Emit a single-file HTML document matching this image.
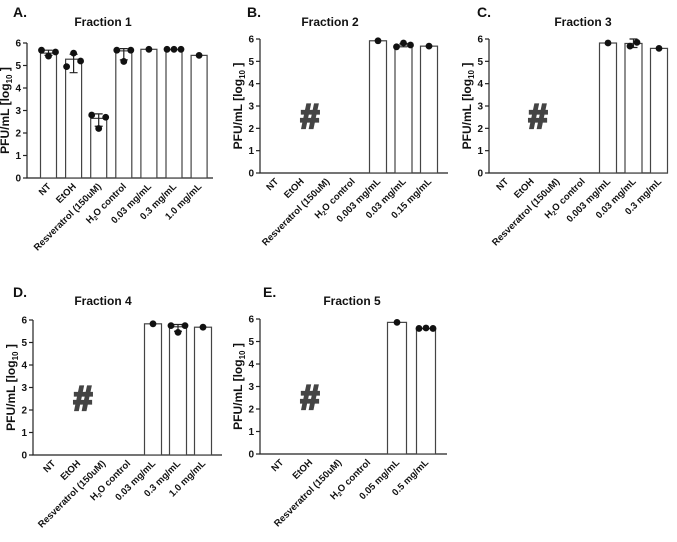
<!DOCTYPE html>
<html><head><meta charset="utf-8"><style>
html,body{margin:0;padding:0;background:#fff;width:677px;height:542px;overflow:hidden}
svg{display:block;font-family:"Liberation Sans",Arial,sans-serif}
</style></head><body>
<svg id="fig" width="677" height="542" viewBox="0 0 677 542"></svg>
<script>
// Panel A
const catsA = ["NT","EtOH","Resveratrol (150uM)","H2O control","0.03 mg/mL","0.3 mg/mL","1.0 mg/mL"];
const meanA = [5.55,5.28,2.65,5.65,5.72,5.7,5.45];
const ptsA = [[5.68,5.42,5.6],[4.95,5.55,5.2],[2.8,2.2,2.7],[5.68,5.18,5.68],[5.72],[5.72,5.72,5.72],[5.45]];
const errA = [[5.45,5.68],[4.68,5.5],[2.3,2.85],[5.25,5.75],null,null,null];
// Panel B
const catsB = ["NT","EtOH","Resveratrol (150uM)","H2O control","0.003 mg/mL","0.03 mg/mL","0.15 mg/mL"];
const meanB = [null,null,null,null,5.92,5.73,5.68];
const ptsB = [[],[],[],[],[5.92],[5.65,5.82,5.73],[5.68]];
const errB = [null,null,null,null,null,[5.65,5.8],null];
// Panel C
const catsC = ["NT","EtOH","Resveratrol (150uM)","H2O control","0.003 mg/mL","0.03 mg/mL","0.3 mg/mL"];
const meanC = [null,null,null,null,5.82,5.8,5.58];
const ptsC = [[],[],[],[],[5.82],[5.68,5.85],[5.58]];
const errC = [null,null,null,null,null,[5.62,6.0],null];
// Panel D
const catsD = ["NT","EtOH","Resveratrol (150uM)","H2O control","0.03 mg/mL","0.3 mg/mL","1.0 mg/mL"];
const meanD = [null,null,null,null,5.83,5.7,5.68];
const ptsD = [[],[],[],[],[5.83],[5.75,5.45,5.75],[5.68]];
const errD = [null,null,null,null,null,[5.5,5.8],null];
// Panel E
const catsE = ["NT","EtOH","Resveratrol (150uM)","H2O control","0.05 mg/mL","0.5 mg/mL"];
const meanE = [null,null,null,null,5.85,5.58];
const ptsE = [[],[],[],[],[5.85],[5.58,5.6,5.58]];
const errE = [null,null,null,null,null,null];
const yTicks = [0,1,2,3,4,5,6];

const NS="http://www.w3.org/2000/svg";
const svg=document.getElementById('fig');
function mk(tag,attrs,parent){const e=document.createElementNS(NS,tag);for(const k in attrs)e.setAttribute(k,attrs[k]);(parent||svg).appendChild(e);return e;}

function panel(p){
  const g=mk('g',{});
  
  
  const y=v=>p.y0+(p.y6-p.y0)*v/6;
  const x=i=>p.c0+p.step*i;
  const L=mk('text',{x:p.lx,y:p.ly,'font-size':14,'font-weight':'bold',fill:'#111'},g);L.textContent=p.id+'.';
  
  
  const T=mk('text',{x:p.tx,y:p.ty,'font-size':12,'font-weight':'bold','text-anchor':'middle',fill:'#111'},g);T.textContent=p.title;
  
  
  const ax=mk('path',{d:`M${p.ax0},${y(6)}V${p.y0}H${p.ax1}`,stroke:'#222','stroke-width':1.2,fill:'none'},g);
  
  
  yTicks.forEach(t=>{
    mk('line',{x1:p.ax0-4,x2:p.ax0,y1:y(t),y2:y(t),stroke:'#222','stroke-width':1.2},g);
    const tl=mk('text',{x:p.ax0-6,y:y(t)+3.5,'font-size':10,'font-weight':'bold','text-anchor':'end',fill:'#111'},g);tl.textContent=t;
    
    
  });
  const yt=mk('text',{transform:`translate(${p.ax0-18},${(p.y0+y(6))/2}) rotate(-90)`,'font-size':12,'font-weight':'bold','text-anchor':'middle',fill:'#111'},g);
  yt.innerHTML='PFU/mL [log<tspan font-size="8" dy="3">10</tspan><tspan dy="-3"> ]</tspan>';
  
  
  p.cats.forEach((c,i)=>{
    const cx=x(i);
    const lab=mk('text',{transform:`translate(${cx+3},${p.y0+9}) rotate(-45)`,'font-size':9.5,'font-weight':'bold','text-anchor':'end',fill:'#111'},g);
    if(c.startsWith('H2O'))lab.innerHTML='H<tspan font-size="6" dy="2">2</tspan><tspan dy="-2">O control</tspan>';else lab.textContent=c;
    
    
    const m=p.mean[i];
    if(m!=null){
      const b=mk('rect',{x:cx-p.bw/2,y:y(m),width:p.bw,height:p.y0-y(m),fill:'#fff',stroke:'#444','stroke-width':1.2},g);
      
      
    }
    const e=p.err[i];
    if(e){
      const eg=mk('path',{d:`M${cx},${y(e[0])}V${y(e[1])}M${cx-4},${y(e[0])}H${cx+4}M${cx-4},${y(e[1])}H${cx+4}`,stroke:'#222','stroke-width':1.2,fill:'none'},g);
      
      
    }
    const pts=p.pts[i];const n=pts.length;
    pts.forEach((v,j)=>{
      const off=n===1?0:(j-(n-1)/2)*7;
      const d=mk('circle',{cx:cx+off,cy:y(v),r:3.4,fill:'#111'},g);
      
      
    });
  });
  if(p.hash){
    const h=mk('text',{x:p.hx,y:p.hy,'font-size':34,'font-weight':'bold','text-anchor':'middle',fill:'#444',stroke:'#444','stroke-width':2.2},g);h.textContent='#';
    
    
  }
}
panel({id:'A',title:'Fraction 1',lx:13,ly:17,tx:103,ty:26,ax0:27,ax1:213,y0:178,y6:43,c0:48.5,step:25.1,bw:16,cats:catsA,mean:meanA,pts:ptsA,err:errA});
panel({id:'B',title:'Fraction 2',lx:247,ly:17,tx:330,ty:26,ax0:260,ax1:448,y0:173,y6:39,c0:276,step:25.5,bw:17,cats:catsB,mean:meanB,pts:ptsB,err:errB,hash:1,hx:310,hy:128});
panel({id:'C',title:'Fraction 3',lx:477,ly:17,tx:583,ty:26,ax0:489,ax1:668,y0:173,y6:39,c0:506,step:25.5,bw:17,cats:catsC,mean:meanC,pts:ptsC,err:errC,hash:1,hx:538,hy:128});
panel({id:'D',title:'Fraction 4',lx:13,ly:297,tx:103,ty:305,ax0:33,ax1:222,y0:455,y6:320,c0:53,step:25,bw:17,cats:catsD,mean:meanD,pts:ptsD,err:errD,hash:1,hx:83,hy:410});
panel({id:'E',title:'Fraction 5',lx:263,ly:297,tx:352,ty:305,ax0:260,ax1:447,y0:454,y6:319,c0:281,step:29,bw:19,cats:catsE,mean:meanE,pts:ptsE,err:errE,hash:1,hx:310,hy:409});
</script>
</body></html>
